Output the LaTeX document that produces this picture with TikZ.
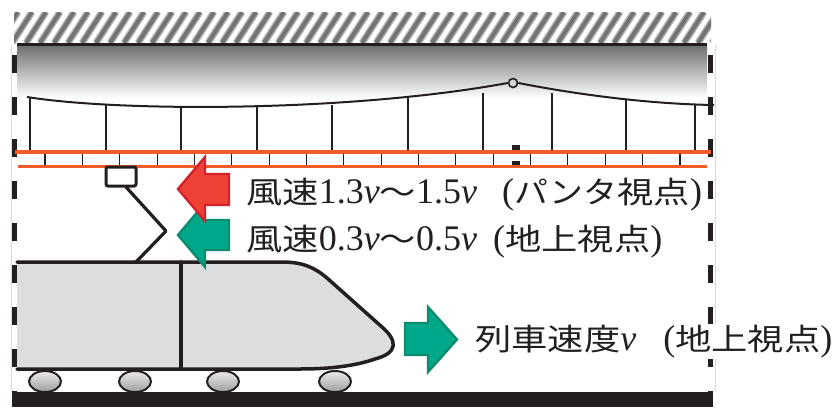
\documentclass[tikz,border=0pt]{standalone}
\usepackage{fontspec}
\setmainfont{Liberation Serif}
\newfontfamily\jp[Scale=0.84,FakeStretch=1.2]{Noto Sans CJK JP}
\newfontfamily\jpkana[Scale=0.84,FakeStretch=1.12]{Noto Sans CJK JP}
\definecolor{ink}{HTML}{231F20}
\definecolor{wire}{HTML}{F15A29}
\definecolor{bodygray}{HTML}{DCDDDE}
\definecolor{redfill}{HTML}{EF4136}
\definecolor{rededge}{HTML}{D2232A}
\definecolor{greenfill}{HTML}{00A88A}
\definecolor{greenedge}{HTML}{0B8C6E}
\definecolor{ceilgray}{HTML}{6D6E71}

\begin{document}
\begin{tikzpicture}[x=1pt,y=-1pt,
  outline/.style={draw=ink, line width=3.2pt, line join=round, line cap=round},
  dropper/.style={draw=ink, line width=1.3pt},
  redline/.style={draw=wire, line width=3.2pt},
  tick/.style={draw=ink, line width=1.1pt},
  sidewall/.style={draw=ink, line width=5pt, dash pattern=on 18pt off 24pt},
  faint/.style={draw=black!15, line width=0.8pt},
  wheel/.style={draw=ink, line width=2pt, top color=black!8, bottom color=black!38},
  redarrow/.style={fill=redfill, draw=rededge, line width=2.4pt, line join=miter},
  greenarrow/.style={fill=greenfill, draw=greenedge, line width=2.4pt, line join=miter},
  label/.style={anchor=base west, inner sep=0pt, text=ink, font=\fontsize{36}{40}\selectfont},
]
\useasboundingbox (0,0) rectangle (837,407);

% ceiling hatching
\begin{scope}
  \clip (14,12) rectangle (711,43);
  \foreach \x in {-30,-16,...,720} {
    \draw[black!30, line width=7pt] (\x,43) -- ++(20,-31);
    \draw[black!55, line width=4pt] (\x,43) -- ++(20,-31);
  }
\end{scope}

% ceiling underside with shading
\shade[top color=ceilgray, bottom color=white] (17,45) rectangle (707,98);
\draw[ink, line width=3pt] (17,44) -- (707,44);

% faint tunnel edges
\draw[faint] (11.5,45) -- (11.5,392);
\draw[faint] (715,45) -- (715,392);

% tunnel side walls
\draw[sidewall] (14.5,55) -- (14.5,392);
\draw[sidewall] (710.5,55) -- (710.5,392);

% droppers
\foreach \x/\y in {30/98, 106/104, 181/107, 257/107, 332/105, 408/98, 483/93, 552/93, 626/100, 695/104}
  \draw[dropper] (\x,\y) -- (\x,151);

% messenger wire with support
\coordinate (wl) at (27,97);
\coordinate (wr) at (714,105);
\node[circle, draw=ink, line width=1.6pt, fill=black!18, minimum size=9pt, inner sep=0pt] (support) at (513,83) {};
\draw[ink, line width=2pt] (wl) .. controls (120,112) and (350,112) .. (support.west);
\draw[ink, line width=2pt] (support.east) .. controls (580,95) and (650,104) .. (wr);

% contact wires
\foreach \k in {0,...,17}
  \draw[tick] ({45+37.35*\k},153) -- ({45+37.35*\k},165);
\draw[redline] (15,152) -- (711,152);
\draw[redline] (18,166.5) -- (707,166.5);
\fill[ink] (512,145) rectangle (520,150);
\fill[ink] (512,161) rectangle (520,165);

% pantograph
\node[draw=ink, line width=3pt, rounded corners=2pt, fill=white, minimum width=30pt, minimum height=19pt, inner sep=0pt] (pan) at (121,176.5) {};
\coordinate (knee) at (166,231);
\coordinate (foot) at (136,262);
\draw[outline] (126,187) -- (knee) -- (foot);

% train body
\fill[bodygray] (17,262) -- (282,262) .. controls (302,262) and (314,267) .. (327,278)
  -- (382,327) .. controls (398,341) and (398,353) .. (375,359)
  .. controls (355,366) and (330,369) .. (300,369) -- (17,369) -- cycle;
\draw[outline, line width=3.5pt] (17,262) -- (282,262) .. controls (302,262) and (314,267) .. (327,278)
  -- (382,327) .. controls (398,341) and (398,353) .. (375,359)
  .. controls (355,366) and (330,369) .. (300,369) -- (17,369);
\draw[outline, line width=3.5pt] (181,262) -- (181,369);

% wheels
\foreach \x/\n in {45/w1, 135/w2, 223/w3, 335/w4}
  \draw[wheel] (\x,381.5) ellipse [x radius=16, y radius=10.5];

% track
\fill[ink] (12,392) rectangle (713,407);

% wind arrows
\draw[greenarrow] (178,235) -- (205,203) -- (205,220) -- (229,220) -- (229,250) -- (205,250) -- (205,267) -- cycle;
\draw[redarrow] (178,189) -- (205,157) -- (205,174) -- (229,174) -- (229,205) -- (205,205) -- (205,221) -- cycle;
\draw[greenarrow] (457,339.5) -- (428,307) -- (428,323) -- (405,323) -- (405,355) -- (428,355) -- (428,372) -- cycle;

% labels
\node[label] (wind1) at (246,203) {{\jp 風速}1.3\textit{v}{\jp 〜}1.5\textit{v}\hspace{0.7em}({\jpkana パンタ}{\jp 視点})};
\node[label] (wind2) at (246,250) {{\jp 風速}0.3\textit{v}{\jp 〜}0.5\textit{v}\hspace{0.45em}({\jp 地上視点})};
\node[label, fill=white, inner ysep=1pt] (speed) at (475,350) {{\jp 列車速度}\textit{v}\hspace{0.75em}({\jp 地上視点})};
\end{tikzpicture}
\end{document}
